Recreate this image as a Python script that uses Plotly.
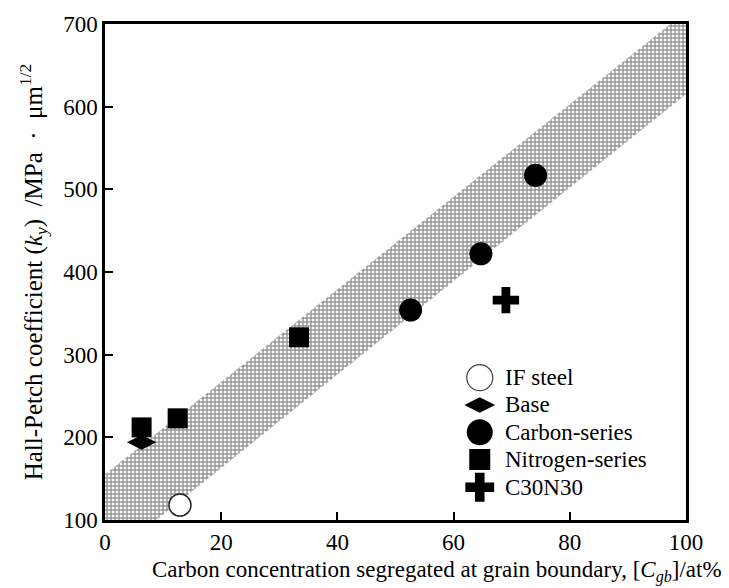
import plotly.graph_objects as go

# Hall-Petch coefficient vs. grain-boundary carbon concentration
if_x, if_y = [12.9], [118]
base_x, base_y = [6.3], [194]
carbon_x = [52.6, 64.7, 74.1]
carbon_y = [354, 422, 517]
nitrogen_x = [6.3, 12.5, 33.4]
nitrogen_y = [212, 223, 321]
c30n30_x, c30n30_y = [69.0], [366]

# scatter band (upper and lower bounds)
band_x = [0, 100]
band_upper = [155, 715]
band_lower = [50, 615]

x_ticks = [0, 20, 40, 60, 80, 100]
y_ticks = [100, 200, 300, 400, 500, 600, 700]

FONT = "Liberation Serif"
FS = 23
NB = "\u00a0"

fig = go.Figure()

# hatched band as a closed polygon
fig.add_trace(go.Scatter(
    x=band_x + band_x[::-1],
    y=band_upper + band_lower[::-1],
    mode="lines", fill="toself",
    line=dict(width=0, color="rgba(0,0,0,0)"),
    fillcolor="rgba(255,255,255,0)",
    fillpattern=dict(shape="+", size=4, solidity=0.6,
                     fgcolor="#2c2c2c", bgcolor="rgba(255,255,255,0)"),
    showlegend=False, hoverinfo="skip",
))

series = [
    dict(name="IF steel", x=if_x, y=if_y,
         marker=dict(symbol="circle", size=22, color="white",
                     line=dict(width=1.5, color="#222")),
         key=dict(symbol="circle", size=26, color="white",
                  line=dict(width=1.2, color="#444"))),
    dict(name="Base", x=base_x, y=base_y,
         marker=dict(symbol="diamond-wide", size=21, color="black"),
         key=dict(symbol="diamond-wide", size=22, color="black")),
    dict(name="Carbon-series", x=carbon_x, y=carbon_y,
         marker=dict(symbol="circle", size=23, color="black"),
         key=dict(symbol="circle", size=26, color="black")),
    dict(name="Nitrogen-series", x=nitrogen_x, y=nitrogen_y,
         marker=dict(symbol="square", size=20, color="black"),
         key=dict(symbol="square", size=21, color="black")),
    dict(name="C30N30", x=c30n30_x, y=c30n30_y,
         marker=dict(symbol="cross", size=22, color="black"),
         key=dict(symbol="cross", size=24, color="black")),
]

for s in series:
    fig.add_trace(go.Scatter(x=s["x"], y=s["y"], mode="markers",
                             name=s["name"], marker=s["marker"],
                             showlegend=False))

# legend key: glyphs on a hidden unit axis, labels as annotations
key_x = 0.645
key_text_x = 0.685
key_rows = [0.287, 0.232, 0.177, 0.122, 0.066]
for s, ky in zip(series, key_rows):
    fig.add_trace(go.Scatter(x=[key_x], y=[ky], mode="markers",
                             marker=s["key"], xaxis="x2", yaxis="y2",
                             showlegend=False, hoverinfo="skip"))
    fig.add_annotation(x=key_text_x, y=ky, xref="paper", yref="paper",
                       text=s["name"], showarrow=False,
                       xanchor="left", yanchor="middle",
                       font=dict(family=FONT, size=FS, color="black"))

axis_common = dict(
    showgrid=False, zeroline=False,
    showline=True, linecolor="black", linewidth=2.5, mirror=True,
    ticks="inside", ticklen=8, tickwidth=1.5, tickcolor="black",
    tickfont=dict(family=FONT, size=FS, color="black"),
)

y_title = ("Hall-Petch coefficient" + NB + "(<i>k</i><sub><i>y</i></sub>)"
           + NB * 2 + "/MPa" + NB * 2 + "·" + NB * 2 + "μm<sup>1/2</sup>")

fig.update_xaxes(range=[0, 100], tickvals=x_ticks, **axis_common)
fig.update_yaxes(
    range=[100, 700], tickvals=y_ticks,
    title=dict(text=y_title,
               font=dict(family=FONT, size=25, color="black"), standoff=14),
    **axis_common,
)

fig.add_annotation(
    x=0.572, y=-0.103, xref="paper", yref="paper",
    text="Carbon concentration segregated at grain boundary, "
         "[<i>C</i><sub><i>gb</i></sub>]/at%",
    showarrow=False, xanchor="center", yanchor="middle",
    font=dict(family=FONT, size=FS, color="black"),
)

fig.update_layout(
    width=729, height=588,
    margin=dict(l=105, r=43, t=20, b=68),
    plot_bgcolor="white", paper_bgcolor="white",
    font=dict(family=FONT, size=FS, color="black"),
    xaxis2=dict(overlaying="x", range=[0, 1], visible=False),
    yaxis2=dict(overlaying="y", range=[0, 1], visible=False),
    showlegend=False,
)

fig.write_html("out.html")
